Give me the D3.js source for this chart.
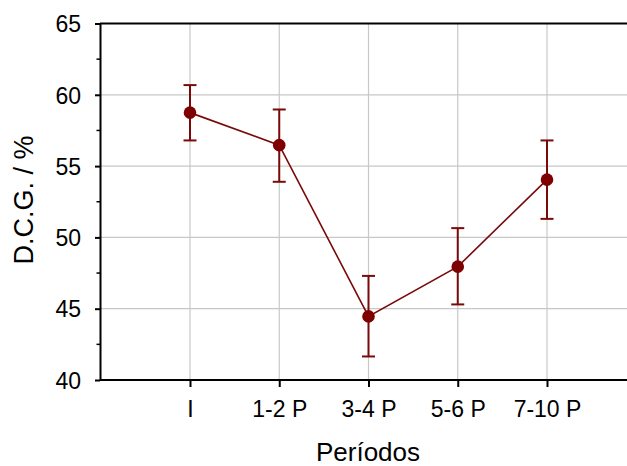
<!DOCTYPE html>
<meta charset="utf-8">
<style>
body { margin: 0; background: #fff; }
svg { display: block; font-family: "Liberation Sans", Arial, sans-serif; }
.grid line { stroke: #c8c8c8; stroke-width: 1.2px; }
.line { fill: none; stroke: #7a0a0a; stroke-width: 1.6px; }
.err { stroke: #7a0a0a; stroke-width: 2px; }
</style>
<svg width="627" height="466"></svg>
<script src="https://cdn.jsdelivr.net/npm/d3@7"></script>
<script>
// data
var periods = ["I", "1-2 P", "3-4 P", "5-6 P", "7-10 P"];
var dcg     = [58.75, 56.47, 44.46, 47.95, 54.05];
var lower   = [56.8, 53.9, 41.65, 45.3, 51.3];
var upper   = [60.68, 58.97, 47.3, 50.65, 56.8];
var yTicks  = [40, 45, 50, 55, 60, 65];
var yMinor  = [42.5, 47.5, 52.5, 57.5, 62.5];

var svg = d3.select("svg"),
    plotL = 100, plotR = 627, plotT = 23.5, plotB = 380;

var x = d3.scalePoint().domain(periods).range([190, 547]),
    y = d3.scaleLinear().domain([40, 65]).range([plotB, plotT]);

var data = periods.map(function(p, i) {
  return {p: p, v: dcg[i], lo: lower[i], hi: upper[i]};
});

// grid
var grid = svg.append("g").attr("class", "grid");
grid.selectAll(".gy").data([45, 50, 55, 60]).enter().append("line")
    .attr("x1", plotL).attr("x2", plotR)
    .attr("y1", function(d) { return y(d); }).attr("y2", function(d) { return y(d); });
grid.selectAll(".gx").data(periods).enter().append("line")
    .attr("x1", function(d) { return x(d); }).attr("x2", function(d) { return x(d); })
    .attr("y1", plotT).attr("y2", plotB);

// top frame line
svg.append("line")
    .attr("x1", plotL).attr("x2", plotR).attr("y1", y(65)).attr("y2", y(65))
    .attr("stroke", "#000").attr("stroke-width", 2);

// y axis
var yAxis = svg.append("g")
    .attr("transform", "translate(" + plotL + ",0)")
    .call(d3.axisLeft(y).tickValues(yTicks).tickSize(5).tickPadding(14).tickSizeOuter(0));
yAxis.select(".domain").attr("stroke-width", 2);
yAxis.selectAll(".tick line").attr("stroke-width", 2);
yAxis.selectAll(".tick text").style("font-size", "23px").attr("fill", "#000").attr("dy", "0.36em");

svg.append("g").selectAll("line").data(yMinor).enter().append("line")
    .attr("x1", plotL - 3.5).attr("x2", plotL)
    .attr("y1", function(d) { return y(d); }).attr("y2", function(d) { return y(d); })
    .attr("stroke", "#000").attr("stroke-width", 1.5);

// x axis
var xAxis = svg.append("g")
    .attr("transform", "translate(0," + plotB + ")")
    .call(d3.axisBottom(x).tickSize(7).tickPadding(14).tickSizeOuter(0));
xAxis.select(".domain").attr("d", "M" + plotL + ",0H" + plotR).attr("stroke-width", 2);
xAxis.selectAll(".tick line").attr("stroke-width", 2);
xAxis.selectAll(".tick text").style("font-size", "23px").attr("fill", "#000");

// axis titles
svg.append("text")
    .attr("x", 368).attr("y", 461)
    .attr("text-anchor", "middle")
    .style("font-size", "26px")
    .text("Períodos");

svg.append("text")
    .attr("transform", "translate(33,200) rotate(-90)")
    .attr("text-anchor", "middle")
    .style("font-size", "27px")
    .text("D.C.G. / %");

// error bars
var eb = svg.append("g").selectAll("g").data(data).enter().append("g");
eb.append("line").attr("class", "err")
    .attr("x1", function(d) { return x(d.p); }).attr("x2", function(d) { return x(d.p); })
    .attr("y1", function(d) { return y(d.lo); }).attr("y2", function(d) { return y(d.hi); });
eb.append("line").attr("class", "err")
    .attr("x1", function(d) { return x(d.p) - 6.5; }).attr("x2", function(d) { return x(d.p) + 6.5; })
    .attr("y1", function(d) { return y(d.hi); }).attr("y2", function(d) { return y(d.hi); });
eb.append("line").attr("class", "err")
    .attr("x1", function(d) { return x(d.p) - 6.5; }).attr("x2", function(d) { return x(d.p) + 6.5; })
    .attr("y1", function(d) { return y(d.lo); }).attr("y2", function(d) { return y(d.lo); });

// line + markers
var line = d3.line()
    .x(function(d) { return x(d.p); })
    .y(function(d) { return y(d.v); });

svg.append("path").datum(data).attr("class", "line").attr("d", line);

svg.append("g").selectAll("circle").data(data).enter().append("circle")
    .attr("cx", function(d) { return x(d.p); })
    .attr("cy", function(d) { return y(d.v); })
    .attr("r", 6.3)
    .attr("fill", "#7f0000");
</script>
